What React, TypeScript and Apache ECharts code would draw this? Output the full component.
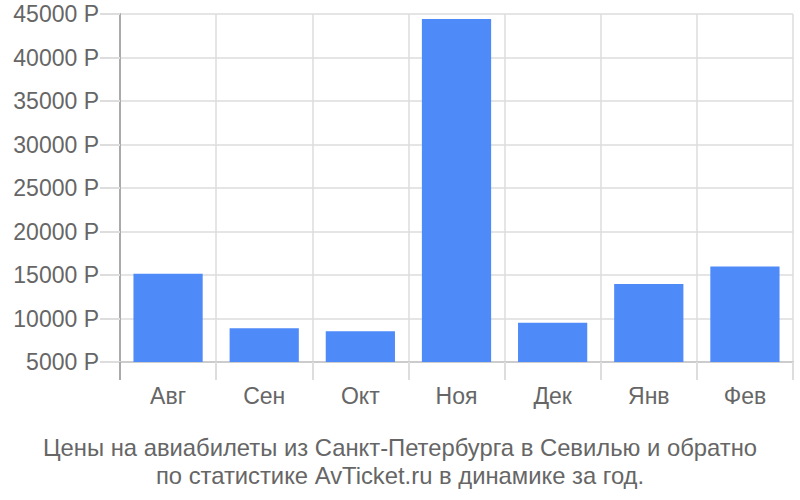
import React, { useEffect, useRef } from "react";
import * as echarts from "echarts";

const categories = ["Авг", "Сен", "Окт", "Ноя", "Дек", "Янв", "Фев"];
const prices = [15150, 8870, 8530, 44420, 9520, 13970, 15990];
const yMin = 5000;
const yMax = 45000;
const yStep = 5000;
const titleLines = [
  "Цены на авиабилеты из Санкт-Петербурга в Севилью и обратно",
  "по статистике AvTicket.ru в динамике за год.",
];

export default function App() {
  const ref = useRef<HTMLDivElement>(null);
  useEffect(() => {
    document.body.style.margin = "0";
    if (!ref.current) return;
    const chart = echarts.init(ref.current, undefined, { renderer: "svg" });
    const font = "'Liberation Sans', Arial, sans-serif";
    chart.setOption({
      animation: false,
      textStyle: { fontFamily: font },
      title: {
        text: titleLines.join("\n"),
        left: "center",
        top: 428,
        textStyle: {
          fontFamily: font,
          fontSize: 23.8,
          fontWeight: "normal",
          color: "#666",
          lineHeight: 28,
        },
      },
      grid: { left: 120, right: 7, top: 14, bottom: 138 },
      xAxis: {
        type: "category",
        data: categories,
        axisLine: { show: true, lineStyle: { color: "#ccc", width: 2 } },
        axisTick: { show: true, length: 18, lineStyle: { color: "#ddd", width: 2 } },
        splitLine: { show: true, lineStyle: { color: "#ddd", width: 1.5 } },
        axisLabel: { fontSize: 23, color: "#666", margin: 22, fontFamily: font },
      },
      yAxis: {
        type: "value",
        min: yMin,
        max: yMax,
        interval: yStep,
        axisLine: { show: true, lineStyle: { color: "#aaa", width: 2 } },
        axisTick: { show: true, length: 20, lineStyle: { color: "#ddd", width: 2 } },
        splitLine: { show: true, lineStyle: { color: "#ddd", width: 1.5 } },
        axisLabel: {
          fontSize: 23,
          color: "#666",
          margin: 21,
          fontFamily: font,
          formatter: (v: number) => v + " Р",
        },
      },
      series: [
        {
          type: "bar",
          data: prices,
          barCategoryGap: "28%",
          itemStyle: { color: "#4e8af8" },
        },
      ],
      graphic: [
        {
          type: "line",
          shape: { x1: 120, y1: 362, x2: 120, y2: 380 },
          style: { stroke: "#aaa", lineWidth: 2 },
          z: 10,
        },
      ],
    });
    return () => chart.dispose();
  }, []);
  return <div ref={ref} style={{ width: 800, height: 500 }} />;
}
